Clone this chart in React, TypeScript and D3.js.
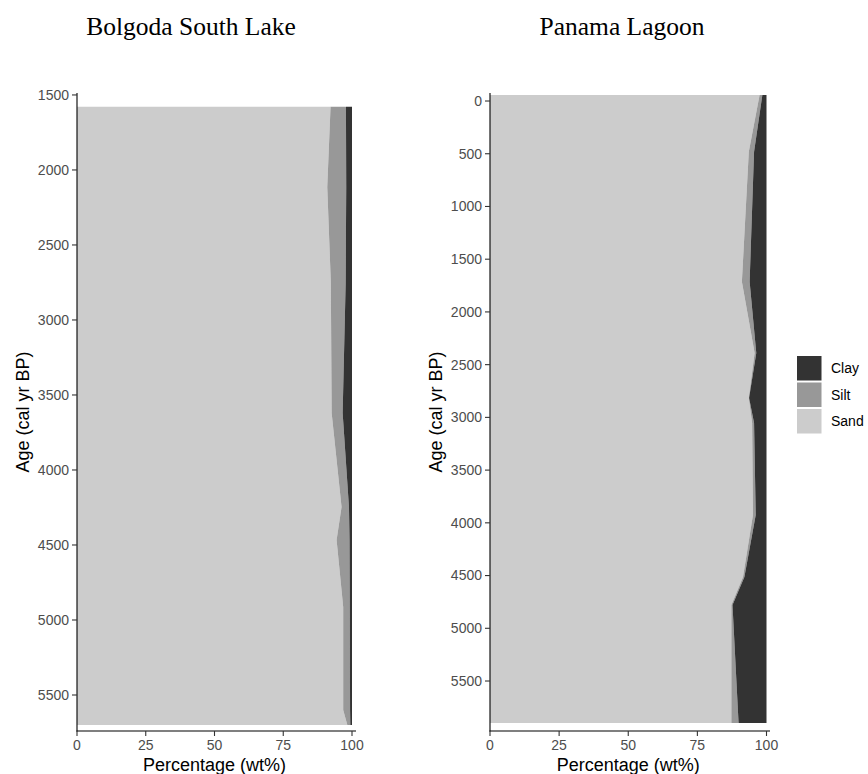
import React from "react";
import * as d3 from "d3";

// ---------- data ----------
const components = ["Sand", "Silt", "Clay"];
const legendOrder = ["Clay", "Silt", "Sand"];
const fillColors: Record<string, string> = { Clay: "#333333", Silt: "#989898", Sand: "#CCCCCC" };

const bolgodaAge = [1578, 2113, 2750, 3620, 4247, 4467, 4913, 5600, 5700];
const bolgodaSand = [92.2, 91.0, 92.3, 92.6, 96.2, 94.4, 96.8, 96.8, 98.3];
const bolgodaSilt = [5.6, 6.9, 5.4, 4.0, 2.7, 4.7, 2.4, 2.5, 1.1];
const bolgodaClay = [2.2, 2.1, 2.3, 3.4, 1.1, 0.9, 0.8, 0.7, 0.6];
const bolgodaTicks = [1500, 2000, 2500, 3000, 3500, 4000, 4500, 5000, 5500];
const bolgodaDomain = [1487, 5740];

const panamaAge = [-57, 481, 1713, 2390, 2817, 3054, 3926, 4514, 4779, 5898];
const panamaSand = [97.5, 93.6, 91.1, 95.7, 93.6, 94.8, 95.1, 91.5, 87.3, 87.3];
const panamaSilt = [1.0, 1.9, 2.8, 0.6, 0.1, 0.7, 1.0, 0.5, 0.4, 2.6];
const panamaClay = [1.5, 4.5, 6.1, 3.7, 6.3, 4.5, 3.9, 8.0, 12.3, 10.1];
const panamaTicks = [0, 500, 1000, 1500, 2000, 2500, 3000, 3500, 4000, 4500, 5000, 5500];
const panamaDomain = [-76, 5974];

const xTicks = [0, 25, 50, 75, 100];

// ---------- layout ----------
const W = 868, H = 774;
const TOP = 93, BOTTOM = 731;
const SANS = "'Liberation Sans', Arial, Helvetica, sans-serif";
const SERIF = "'Liberation Serif', 'Times New Roman', serif";

type PanelProps = {
  title: string; titleX: number;
  left: number; right: number; axisEnd: number;
  ages: number[]; sand: number[]; silt: number[]; clay: number[];
  ticks: number[]; domain: number[];
};

function Panel(p: PanelProps) {
  const x = d3.scaleLinear().domain([0, 100]).range([p.left, p.right]);
  const y = d3.scaleLinear().domain(p.domain).range([TOP, BOTTOM]);
  const rows = p.ages.map((a, i) => ({ age: a, Sand: p.sand[i], Silt: p.silt[i], Clay: p.clay[i] }));
  const series = d3.stack<any>().keys(components)(rows);
  const area = d3.area<any>()
    .y((d) => y(d.data.age))
    .x0((d) => x(d[0]))
    .x1((d) => x(d[1]));
  const cx = (p.left + p.right) / 2;
  const midY = (TOP + BOTTOM) / 2;
  return (
    <g>
      <text x={p.titleX} y={34.5} textAnchor="middle" fontFamily={SERIF} fontSize={25.5} fill="#000">{p.title}</text>
      {series.map((s) => (
        <path key={s.key} d={area(s) || ""} fill={fillColors[s.key]} />
      ))}
      {/* y axis */}
      <line x1={p.left} x2={p.left} y1={TOP} y2={BOTTOM + 0.5} stroke="#000" strokeWidth={1.1} />
      {p.ticks.map((t) => (
        <g key={t}>
          <line x1={p.left - 5} x2={p.left} y1={y(t)} y2={y(t)} stroke="#333" strokeWidth={1.1} />
          <text x={p.left - 8} y={y(t)} dy="0.35em" textAnchor="end" fontFamily={SANS} fontSize={14} fill="#4D4D4D">{t}</text>
        </g>
      ))}
      {/* x axis */}
      <line x1={p.left - 0.5} x2={p.axisEnd} y1={BOTTOM} y2={BOTTOM} stroke="#000" strokeWidth={1.1} />
      {xTicks.map((t) => (
        <g key={t}>
          <line x1={x(t)} x2={x(t)} y1={BOTTOM} y2={BOTTOM + 5} stroke="#333" strokeWidth={1.1} />
          <text x={x(t)} y={750} textAnchor="middle" fontFamily={SANS} fontSize={14} fill="#4D4D4D">{t}</text>
        </g>
      ))}
      <text x={cx} y={770.5} textAnchor="middle" fontFamily={SANS} fontSize={18} fill="#000">Percentage (wt%)</text>
      <text transform={`translate(${p.left - 48},${midY}) rotate(-90)`} textAnchor="middle" fontFamily={SANS} fontSize={18} fill="#000">Age (cal yr BP)</text>
    </g>
  );
}

export default function App() {
  const keySize = 24.5, keyGap = 26.5, keyX = 797, keyY0 = 356;
  return (
    <svg width={W} height={H} style={{ position: "absolute", left: 0, top: 0, background: "#fff" }}>
      <rect width={W} height={H} fill="#fff" />
      <Panel title="Bolgoda South Lake" titleX={191} left={77} right={352} axisEnd={356}
        ages={bolgodaAge} sand={bolgodaSand} silt={bolgodaSilt} clay={bolgodaClay}
        ticks={bolgodaTicks} domain={bolgodaDomain} />
      <Panel title="Panama Lagoon" titleX={622} left={490} right={766.5} axisEnd={770}
        ages={panamaAge} sand={panamaSand} silt={panamaSilt} clay={panamaClay}
        ticks={panamaTicks} domain={panamaDomain} />
      {legendOrder.map((k, i) => (
        <g key={k}>
          <rect x={keyX} y={keyY0 + i * keyGap} width={keySize} height={keySize} fill={fillColors[k]} />
          <text x={keyX + 34} y={keyY0 + i * keyGap + keySize / 2} dy="0.35em" fontFamily={SANS} fontSize={14} fill="#000">{k}</text>
        </g>
      ))}
    </svg>
  );
}
